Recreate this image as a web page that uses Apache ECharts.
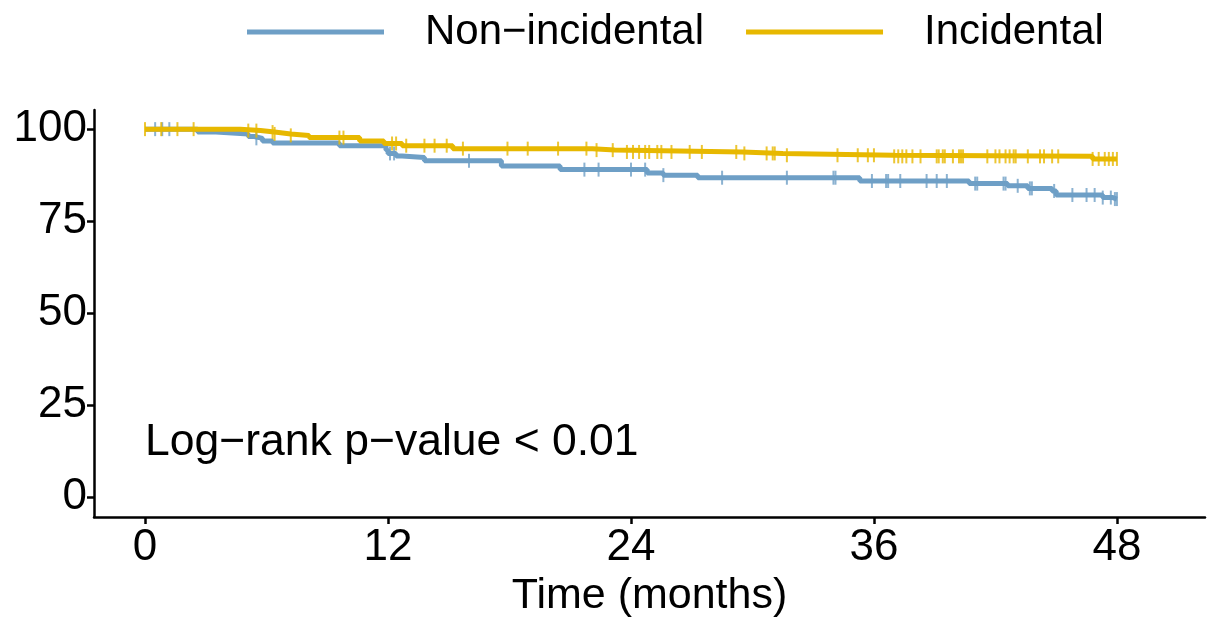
<!DOCTYPE html>
<html>
<head>
<meta charset="utf-8">
<script src="https://cdn.jsdelivr.net/npm/echarts@6/dist/echarts.min.js"></script>
<style>html,body{margin:0;padding:0;background:#fff}#c{width:1211px;height:623px}</style>
</head>
<body>
<div id="c"></div>
<script>
// Kaplan-Meier step points: [time (months), survival %]
const nonIncidentalSteps = [[0,100],[2.6,99.2],[3.5,98.7],[5.1,98.0],[5.4,97.5],[5.8,96.8],[6.3,96.2],[9.6,95.5],[11.9,94.3],[12.0,93.4],[12.4,92.7],[12.7,92.3],[13.8,91.4],[17.6,90.0],[20.5,89.0],[24.8,88.1],[25.6,87.5],[27.3,86.8],[35.3,85.9],[40.7,85.2],[42.6,84.6],[43.6,83.9],[44.8,83.2],[45.0,82.1],[47.3,81.4],[47.8,81.0],[48.0,81.0]];
const incidentalSteps = [[0,100],[4.7,99.6],[5.7,99.2],[6.4,98.7],[7.2,98.3],[8.1,97.7],[10.6,96.8],[11.8,96.1],[12.7,95.5],[15.2,94.7],[22.1,94.3],[23.2,93.8],[29.5,93.4],[31.5,92.9],[37.0,92.6],[46.8,91.9],[48.0,91.9]];
// censoring times (months)
const nonIncidentalCensor = [0.5,0.85,1.2,5.5,12.1,12.3,16.0,21.7,22.4,24.0,24.7,25.6,28.5,31.7,34.0,34.1,35.9,36.6,36.7,37.3,38.6,39.1,39.6,41.0,41.1,42.4,42.5,43.1,43.7,43.8,44.9,45.8,46.5,46.9,47.3,47.7,47.9,48.0];
const incidentalCensor = [0,0.8,1.6,2.4,5.1,5.5,6.3,6.4,7.2,9.6,9.8,12.2,12.4,12.9,13.8,14.3,14.9,15.7,17.9,18.9,20.4,21.8,22.3,23.1,23.8,24.1,24.4,24.7,24.9,25.3,25.5,26.0,26.9,27.5,29.2,29.6,30.7,31.0,31.1,31.7,34.2,35.2,35.7,36.0,37.0,37.2,37.4,37.6,37.9,38.3,39.1,39.2,39.4,39.5,39.9,40.2,40.3,40.4,41.6,42.0,42.2,42.5,42.7,42.9,43.0,43.6,44.2,44.4,44.8,45.1,46.8,47.1,47.4,47.6,47.8,48.0];
const xTicks = [0,12,24,36,48];
const yTicks = [0,25,50,75,100];
const seriesNames = ['Non\u2212incidental','Incidental'];
const colors = ['#6E9FC6','#E7B800'];

function survAt(steps, t){
  let v = steps[0][1];
  for (const s of steps){ if (s[0] <= t) v = s[1]; else break; }
  return v;
}
const font = 'Liberation Sans, Arial, Helvetica, sans-serif';
const chart = echarts.init(document.getElementById('c'));
const mkCensor = (steps, times) => times.map(t => [t, survAt(steps, t)]);
chart.setOption({
  animation:false,
  backgroundColor:'#fff',
  grid:{left:94,right:6,top:110,bottom:106,containLabel:false},
  legend:{
    top:6,left:242,itemWidth:137,itemHeight:5,itemGap:42,icon:'rect',
    data:seriesNames,
    textStyle:{fontFamily:font,fontSize:42,color:'#000',padding:[0,0,0,36]}
  },
  xAxis:{
    type:'value',min:-2.52,max:52.35,
    name:'Time (months)',nameLocation:'middle',nameGap:57,
    nameTextStyle:{fontFamily:font,fontSize:43,color:'#000'},
    axisLine:{show:true,onZero:false,lineStyle:{color:'#000',width:2.5}},
    axisTick:{show:true,length:7,lineStyle:{color:'#000',width:2.5},customValues:xTicks},
    axisLabel:{fontFamily:font,fontSize:44,color:'#000',margin:9,customValues:xTicks},
    splitLine:{show:false}
  },
  yAxis:{
    type:'value',min:-5.4,max:105.2,
    axisLine:{show:true,onZero:false,lineStyle:{color:'#000',width:2.5}},
    axisTick:{show:true,length:7,lineStyle:{color:'#000',width:2.5},customValues:yTicks},
    axisLabel:{fontFamily:font,fontSize:44,color:'#000',margin:7,customValues:yTicks},
    splitLine:{show:false}
  },
  graphic:[{type:'text',left:145,top:420,style:{text:'Log\u2212rank p\u2212value < 0.01',fontFamily:font,fontSize:44.5,fill:'#000'}}],
  series:[
    {name:seriesNames[0],type:'line',step:'end',data:nonIncidentalSteps,showSymbol:false,symbol:'none',
     lineStyle:{color:colors[0],width:5},itemStyle:{color:colors[0]},z:2},
    {name:seriesNames[1],type:'line',step:'end',data:incidentalSteps,showSymbol:false,symbol:'none',
     lineStyle:{color:colors[1],width:5},itemStyle:{color:colors[1]},z:3},
    {name:seriesNames[0]+'_c',type:'scatter',data:mkCensor(nonIncidentalSteps,nonIncidentalCensor),
     symbol:'rect',symbolSize:[2,14],itemStyle:{color:colors[0]},z:2},
    {name:seriesNames[1]+'_c',type:'scatter',data:mkCensor(incidentalSteps,incidentalCensor),
     symbol:'rect',symbolSize:[2,14],itemStyle:{color:colors[1]},z:3}
  ]
});
</script>
</body>
</html>
